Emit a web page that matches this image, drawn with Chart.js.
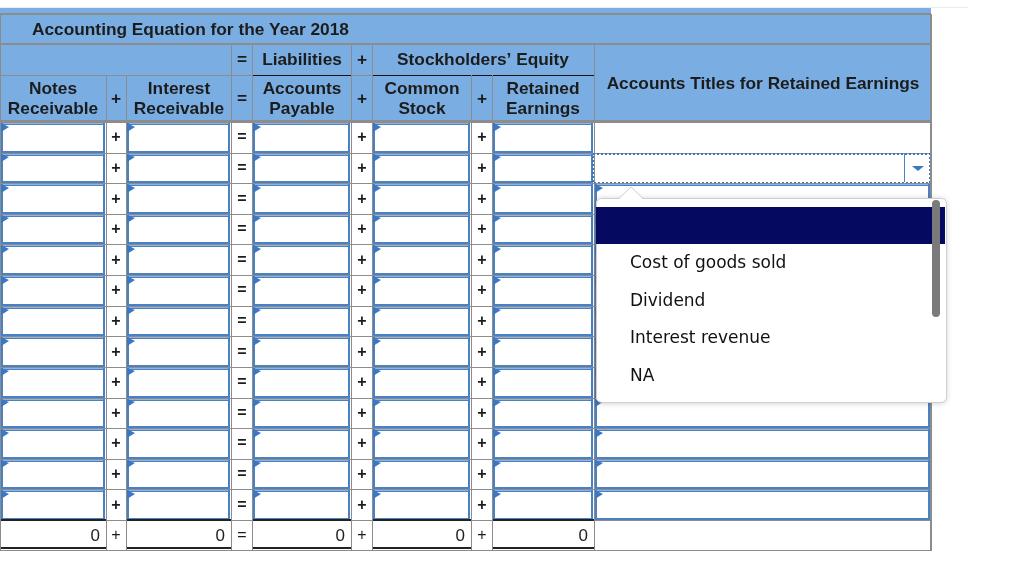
<!DOCTYPE html>
<html>
<head>
<meta charset="utf-8">
<script src="https://cdn.jsdelivr.net/npm/chart.js@4.4.1/dist/chart.umd.min.js"></script>
<style>
  html, body { margin: 0; padding: 0; background: #fff; overflow: hidden; }
  canvas { display: block; }
</style>
</head>
<body>
<canvas id="eqChart" width="1024" height="563"></canvas>
<script>
    // Table content
    const tableTitle = 'Accounting Equation for the Year 2018';
    const groupHeaders = ['Liabilities', 'Stockholders\u2019 Equity'];
    const columnHeaders = [['Notes', 'Receivable'], ['Interest', 'Receivable'], ['Accounts', 'Payable'], ['Common', 'Stock'], ['Retained', 'Earnings']];
    const operators = ['+', '=', '+', '+'];
    const totals = [0, 0, 0, 0, 0];
    const titlesHeader = 'Accounts Titles for Retained Earnings';
    const dropdownOptions = ['', 'Cost of goods sold', 'Dividend', 'Interest revenue', 'NA'];
    const entryRowCount = 13;

    // Layout (page units, mapped through the chart scales)
    const colEdges = [0, 106, 126, 231, 252, 351, 372, 471, 492, 594, 931];
    const tableRight = 931;
    const bodyTop = 122;
    const totalTop = 520;
    const totalBottom = 550;
    const rowH = (totalTop - bodyTop) / entryRowCount;

    const HEAD_BG = '#7aaee2';
    const GRID = '#8c8c8c';
    const INPUT = '#4a80c4';
    const FLAG = '#3a77c4';
    const TXT = '#1c1c1c';
    const BOLD = 'bold 17.3px "Liberation Sans", Arial, sans-serif';

    const tablePlugin = {
        id: 'eqTable',
        afterDraw(chart) {
            const ctx = chart.ctx;
            const sx = chart.scales.x, sy = chart.scales.y;
            const X = v => Math.round(sx.getPixelForValue(v));
            const Y = v => Math.round(sy.getPixelForValue(v));

            const fill = (x0, y0, x1, y1, c) => {
                ctx.fillStyle = c;
                ctx.fillRect(X(x0), Y(y0), X(x1) - X(x0), Y(y1) - Y(y0));
            };
            const hline = (x0, x1, y, c, w) => {
                ctx.strokeStyle = c; ctx.lineWidth = w;
                const py = Y(y) + (w % 2 ? 0.5 : 0);
                ctx.beginPath(); ctx.moveTo(X(x0), py); ctx.lineTo(X(x1), py); ctx.stroke();
            };
            const vline = (x, y0, y1, c, w) => {
                ctx.strokeStyle = c; ctx.lineWidth = w;
                const px = X(x) + (w % 2 ? 0.5 : 0);
                ctx.beginPath(); ctx.moveTo(px, Y(y0)); ctx.lineTo(px, Y(y1)); ctx.stroke();
            };
            const text = (s, x, y, font, align, c, base) => {
                ctx.font = font; ctx.textAlign = align || 'center';
                ctx.textBaseline = base || 'middle'; ctx.fillStyle = c || TXT;
                ctx.fillText(s, X(x), Y(y));
            };
            const flag = (x0, y0) => {
                ctx.fillStyle = FLAG;
                ctx.beginPath();
                ctx.moveTo(X(x0), Y(y0));
                ctx.lineTo(X(x0 + 7.5), Y(y0 + 3.5));
                ctx.lineTo(X(x0), Y(y0 + 8.5));
                ctx.closePath(); ctx.fill();
            };
            const inputBox = (x0, y0, x1, y1) => {
                ctx.strokeStyle = INPUT; ctx.lineWidth = 2;
                ctx.strokeRect(X(x0) + 2, Y(y0) + 2, X(x1) - X(x0) - 4, Y(y1) - Y(y0) - 3);
                ctx.strokeStyle = '#8fb4e4'; ctx.lineWidth = 1;
                ctx.beginPath(); ctx.moveTo(X(x0) + 3, Y(y0) + 1.5); ctx.lineTo(X(x1) - 3, Y(y0) + 1.5); ctx.stroke();
                flag(x0 + 1, y0 + 1);
            };
            const colMid = i => (colEdges[i] + colEdges[i + 1]) / 2;

            ctx.save();

            // ---- header block ----
            hline(0, 968, 7, '#ebebeb', 1);
            fill(0, 8, tableRight, bodyTop, HEAD_BG);
            hline(0, tableRight, 14, GRID, 2);
            hline(0, tableRight, 44, GRID, 2);
            text(tableTitle, 32, 29.5, BOLD, 'left');

            // group row (= Liabilities + Stockholders' Equity)
            [231, 252, 351, 372, 594].forEach(x => vline(x, 44, bodyTop, GRID, 1));
            text('=', colMid(3), 59.5, BOLD);
            text(groupHeaders[0], colMid(4), 59.5, BOLD);
            text('+', colMid(5), 59.5, BOLD);
            text(groupHeaders[1], (colEdges[6] + colEdges[9]) / 2, 59.5, BOLD);
            hline(0, 252, 75, GRID, 1);
            hline(351, 372, 75, GRID, 1);
            hline(252, 351, 75, '#111', 1);
            hline(372, 594, 75, '#111', 1);

            // column header row
            for (let i = 1; i < 9; i++) vline(colEdges[i], 75, bodyTop, GRID, 1);
            columnHeaders.forEach((h, k) => {
                text(h[0], colMid(k * 2), 89, BOLD);
                text(h[1], colMid(k * 2), 108.5, BOLD);
            });
            operators.forEach((op, k) => text(op, colMid(k * 2 + 1), 98.5, BOLD));
            text(titlesHeader, colMid(9), 83.5, BOLD);
            hline(0, tableRight, bodyTop - 1, GRID, 2);

            // ---- entry rows ----
            for (let r = 0; r < entryRowCount; r++) {
                const y0 = bodyTop + r * rowH, y1 = y0 + rowH;
                for (let c = 0; c < 10; c++) {
                    const x0 = colEdges[c], x1 = colEdges[c + 1];
                    fill(x0, y0, x1, y1, '#fff');
                    ctx.strokeStyle = GRID; ctx.lineWidth = 1;
                    ctx.strokeRect(X(x0) + 0.5, Y(y0) + 0.5, X(x1) - X(x0), Y(y1) - Y(y0));
                    if (c < 9 && c % 2 === 0) {
                        inputBox(x0, y0, x1, y1);
                    } else if (c < 9) {
                        text(operators[(c - 1) / 2], colMid(c), (y0 + y1) / 2 + 1, 'bold 16px "Liberation Sans", Arial, sans-serif');
                    } else if (r === 1) {
                        // focused select
                        ctx.strokeStyle = '#3b76c4'; ctx.lineWidth = 2;
                        ctx.setLineDash([2, 2]);
                        ctx.strokeRect(X(x0) - 1, Y(y0) + 1, X(x1) - X(x0), Y(y1) - Y(y0) - 1);
                        ctx.setLineDash([]);
                        vline(904, y0 + 1, y1 - 1, '#4a80c4', 1);
                        ctx.fillStyle = '#3d78c4';
                        ctx.beginPath();
                        ctx.moveTo(X(911.5), Y(y0 + 13)); ctx.lineTo(X(923.5), Y(y0 + 13)); ctx.lineTo(X(917.5), Y(y0 + 18.5));
                        ctx.closePath(); ctx.fill();
                    } else if (r > 1) {
                        inputBox(x0, y0, x1, y1);
                    }
                }
            }

            // ---- totals row ----
            for (let c = 0; c < 10; c++) {
                const x0 = colEdges[c], x1 = colEdges[c + 1];
                fill(x0, totalTop, x1, totalBottom, '#fff');
                ctx.strokeStyle = GRID; ctx.lineWidth = 1;
                ctx.strokeRect(X(x0) + 0.5, Y(totalTop) + 0.5, X(x1) - X(x0), Y(totalBottom) - Y(totalTop));
                if (c < 9 && c % 2 === 0) {
                    hline(x0 + 1, x1, totalTop, '#222', 2);
                    hline(x0 + 1, x1, totalBottom - 2, '#222', 2);
                    text(String(totals[c / 2]), x1 - 6, totalTop + 16, '17px "Liberation Sans", Arial, sans-serif', 'right', '#222');
                } else if (c < 9) {
                    text(operators[(c - 1) / 2], colMid(c), totalTop + 16, '16px "Liberation Sans", Arial, sans-serif');
                }
            }
            vline(tableRight, 14, totalBottom, GRID, 2);
            vline(0, 14, totalBottom, GRID, 1);

            // ---- open dropdown list ----
            const dx0 = 595.5, dx1 = 945.5, dy0 = 198, dy1 = 401.5;
            ctx.save();
            ctx.shadowColor = 'rgba(0,0,0,0.22)';
            ctx.shadowBlur = 6; ctx.shadowOffsetY = 1;
            ctx.fillStyle = '#fff';
            ctx.beginPath();
            ctx.roundRect(X(dx0), Y(dy0), X(dx1) - X(dx0), Y(dy1) - Y(dy0), 5);
            ctx.fill();
            ctx.restore();
            ctx.strokeStyle = '#cfcfcf'; ctx.lineWidth = 1;
            ctx.beginPath();
            ctx.roundRect(X(dx0) + 0.5, Y(dy0) + 0.5, X(dx1) - X(dx0), Y(dy1) - Y(dy0), 5);
            ctx.stroke();
            // notch
            ctx.fillStyle = '#fff';
            ctx.beginPath();
            ctx.moveTo(X(619), Y(dy0) + 1); ctx.lineTo(X(631), Y(187)); ctx.lineTo(X(643), Y(dy0) + 1);
            ctx.closePath(); ctx.fill();
            ctx.strokeStyle = '#cfcfcf';
            ctx.beginPath();
            ctx.moveTo(X(619), Y(dy0) + 0.5); ctx.lineTo(X(631), Y(187)); ctx.lineTo(X(643), Y(dy0) + 0.5);
            ctx.stroke();

            const optTop = 207, optH = 37.4;
            fill(596, optTop, 945, optTop + optH, '#05095f');
            dropdownOptions.forEach((o, i) => {
                if (!o) return;
                text(o, 630, optTop + i * optH + 24, '17px "DejaVu Sans", Verdana, sans-serif', 'left', '#111', 'alphabetic');
            });
            ctx.fillStyle = '#7a7a7a';
            ctx.beginPath();
            ctx.roundRect(X(931.5), Y(200), X(940) - X(931.5), Y(317) - Y(200), 4);
            ctx.fill();

            ctx.restore();
        }
    };

    new Chart(document.getElementById('eqChart'), {
        type: 'scatter',
        data: { datasets: [{ data: [], pointRadius: 0 }] },
        options: {
            responsive: false,
            animation: false,
            events: [],
            layout: { padding: 0 },
            plugins: { legend: { display: false }, tooltip: { enabled: false } },
            scales: {
                x: { type: 'linear', min: 0, max: 1024, display: false },
                y: { type: 'linear', min: 0, max: 563, reverse: true, display: false }
            }
        },
        plugins: [tablePlugin]
    });
</script>
</body>
</html>
